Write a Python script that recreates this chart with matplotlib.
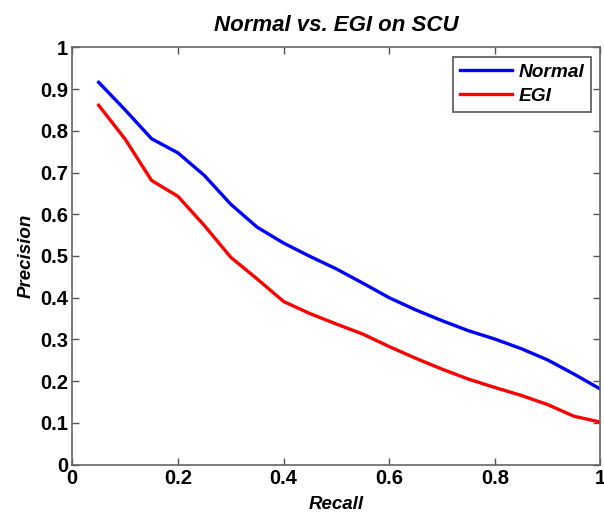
import matplotlib.pyplot as plt

plt.rcParams['font.family'] = ['Liberation Sans', 'DejaVu Sans']

# data
recall = [0.05, 0.10, 0.15, 0.20, 0.25, 0.30, 0.35, 0.40, 0.45, 0.50,
          0.55, 0.60, 0.65, 0.70, 0.75, 0.80, 0.85, 0.90, 0.95, 1.00]
normal = [0.916, 0.850, 0.781, 0.747, 0.693, 0.624, 0.569, 0.531, 0.499, 0.469,
          0.435, 0.400, 0.371, 0.345, 0.321, 0.301, 0.278, 0.251, 0.217, 0.181]
egi = [0.861, 0.780, 0.681, 0.643, 0.573, 0.497, 0.445, 0.391, 0.362, 0.337,
       0.313, 0.283, 0.255, 0.229, 0.205, 0.185, 0.166, 0.144, 0.116, 0.102]
ticks = [0, 0.2, 0.4, 0.6, 0.8, 1]
yticks = [0, 0.1, 0.2, 0.3, 0.4, 0.5, 0.6, 0.7, 0.8, 0.9, 1]

fig = plt.figure(figsize=(6.04, 5.14), dpi=100)
ax = fig.add_axes([0.1197, 0.0959, 0.8745, 0.8121])

ax.plot(recall, normal, color='#0000ff', lw=2.4, label='Normal')
ax.plot(recall, egi, color='#ff0000', lw=2.4, label='EGI')

ax.set_xlim(0, 1)
ax.set_ylim(0, 1)
ax.set_xticks(ticks)
ax.set_xticklabels(['0', '0.2', '0.4', '0.6', '0.8', '1'])
ax.set_yticks(yticks)
ax.set_yticklabels(['0', '0.1', '0.2', '0.3', '0.4', '0.5', '0.6', '0.7', '0.8', '0.9', '1'])
ax.tick_params(direction='in', top=True, right=True, length=5, width=1,
               color='#555555', labelsize=14.5, pad=3)
for lab in ax.get_xticklabels() + ax.get_yticklabels():
    lab.set_fontweight('bold')
for sp in ax.spines.values():
    sp.set_color('#666666')
    sp.set_linewidth(1.2)

ax.set_xlabel('Recall', fontsize=13.5, fontweight='bold', style='italic', labelpad=6)
ax.set_ylabel('Precision', fontsize=13.5, fontweight='bold', style='italic', labelpad=4)
ax.set_title('Normal vs. EGI on SCU', fontsize=16, fontweight='bold', style='italic', pad=12)

leg = ax.legend(loc='upper right', fancybox=False, framealpha=1, edgecolor='#555555',
                prop={'size': 13.8, 'weight': 'bold', 'style': 'italic'},
                handlelength=2.7, handletextpad=0.35, borderpad=0.35, labelspacing=0.35,
                borderaxespad=0.5)
leg.get_frame().set_linewidth(1.2)

plt.savefig('out.png', dpi=100)
